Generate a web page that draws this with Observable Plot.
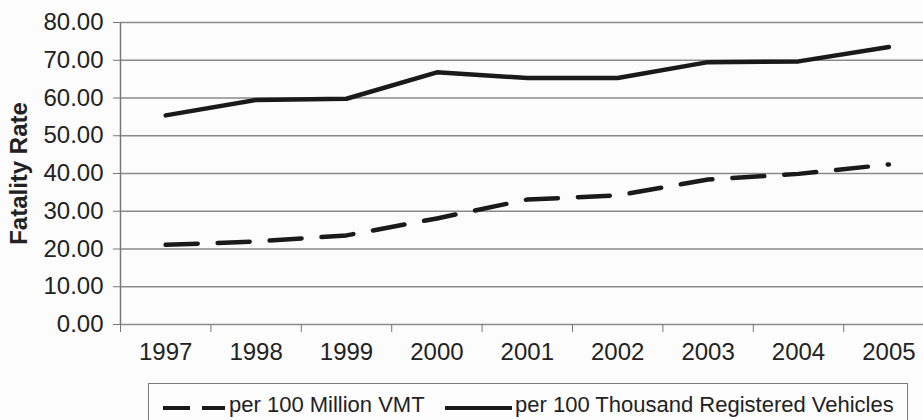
<!DOCTYPE html>
<html>
<head>
<meta charset="utf-8">
<script src="https://cdn.jsdelivr.net/npm/d3@7"></script>
<script src="https://cdn.jsdelivr.net/npm/@observablehq/plot@0.6"></script>
<style>
  html, body { margin: 0; padding: 0; background: #fcfcfc; }
  body { width: 923px; height: 420px; overflow: hidden; position: relative; font-family: "Liberation Sans", Arial, sans-serif; color: #222; }
  #chart svg { display: block; }
  #legend { position: absolute; left: 148px; top: 383px; width: 760px; height: 60px; border: 1.5px solid #7a7a7a; box-sizing: border-box; background: #fdfdfd; }
  .item { position: absolute; top: 8px; font-size: 22px; line-height: 26px; white-space: nowrap; color: #222; }
  .sw { position: absolute; top: 20px; }
</style>
</head>
<body>
<div id="chart"></div>
<div id="legend"></div>
<script>
const years = [1997, 1998, 1999, 2000, 2001, 2002, 2003, 2004, 2005];
const perVMT = [21.1, 22.0, 23.6, 28.1, 33.1, 34.2, 38.4, 39.9, 42.4];
const perVehicles = [55.4, 59.5, 59.8, 66.8, 65.3, 65.3, 69.5, 69.7, 73.5];
const yTicks = [0, 10, 20, 30, 40, 50, 60, 70, 80];
const seriesNames = ["per 100 Million VMT", "per 100 Thousand Registered Vehicles"];
const yLabel = "Fatality Rate";

const vmtData = years.map((y, i) => ({year: y, value: perVMT[i]}));
const vehData = years.map((y, i) => ({year: y, value: perVehicles[i]}));
const boundaries = years.map(y => y - 0.5);

const font = "'Liberation Sans', Arial, sans-serif";

const chart = Plot.plot({
  width: 923,
  height: 383,
  marginTop: 22,
  marginBottom: 59,
  marginLeft: 120,
  marginRight: 0,
  style: {background: "transparent", fontFamily: font, fontSize: "24px", color: "#222"},
  x: {type: "linear", domain: [1996.5, 2005.5], range: [120, 933.6]},
  y: {domain: [0, 80]},
  marks: [
    Plot.gridY(yTicks, {stroke: "#8a8a8a", strokeOpacity: 1, strokeWidth: 1.5}),
    Plot.ruleX([1996.5], {stroke: "#777", strokeWidth: 1.5}),
    Plot.axisY({ticks: yTicks, tickSize: 7, tickPadding: 10, tickFormat: d => d.toFixed(2), stroke: "#777", fill: "#222", fontSize: 24, label: null}),
    Plot.axisX({ticks: boundaries, tickSize: 8, tickFormat: () => "", stroke: "#777", label: null}),
    Plot.axisX({ticks: years, tickSize: 0, tickPadding: 18, tickFormat: d => String(d), fill: "#222", fontSize: 24, label: null}),
    Plot.text([yLabel], {frameAnchor: "left", text: d => d, rotate: -90, dx: -101, textAnchor: "middle", lineAnchor: "middle", fontWeight: "bold", fontSize: 24, fill: "#222"}),
    Plot.line(vmtData, {x: "year", y: "value", stroke: "#1a1a1a", strokeWidth: 4.5, strokeDasharray: "32,20", strokeLinecap: "round"}),
    Plot.line(vehData, {x: "year", y: "value", stroke: "#1a1a1a", strokeWidth: 4.5, strokeLinecap: "round"})
  ]
});
document.getElementById("chart").appendChild(chart);

// legend
const legend = document.getElementById("legend");
function swatch(left, width, dash) {
  const ns = "http://www.w3.org/2000/svg";
  const s = document.createElementNS(ns, "svg");
  s.setAttribute("width", width + 6);
  s.setAttribute("height", 8);
  s.setAttribute("class", "sw");
  s.style.left = (left - 3) + "px";
  const l = document.createElementNS(ns, "line");
  l.setAttribute("x1", 3); l.setAttribute("x2", width + 3);
  l.setAttribute("y1", 4); l.setAttribute("y2", 4);
  l.setAttribute("stroke", "#1a1a1a");
  l.setAttribute("stroke-width", 4);
  if (dash) l.setAttribute("stroke-dasharray", dash);
  s.appendChild(l);
  legend.appendChild(s);
}
function label(left, text) {
  const d = document.createElement("div");
  d.className = "item";
  d.style.left = left + "px";
  d.textContent = text;
  legend.appendChild(d);
}
swatch(14, 62, "27,12");
label(80, seriesNames[0]);
swatch(296, 67, null);
label(366, seriesNames[1]);
</script>
</body>
</html>
